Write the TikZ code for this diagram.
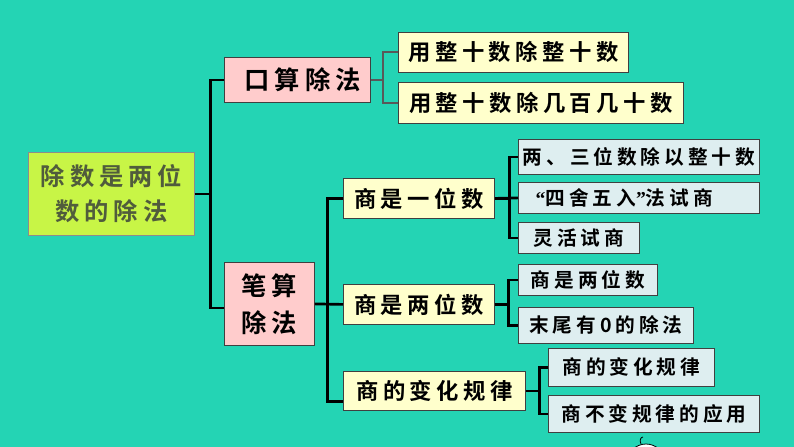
\documentclass[tikz,border=0pt]{standalone}
\usepackage{fontspec}
\usepackage{tikz}
\usetikzlibrary{positioning,calc}
\newfontfamily\cjk[LetterSpace=20,BoldFont=* Bold]{Noto Sans CJK SC}
\newfontfamily\quotefont{Liberation Serif}
\newcommand{\openq}{{\quotefont “}}
\newcommand{\closeq}{{\quotefont ”}}
\definecolor{bgteal}{RGB}{36,212,180}
\definecolor{rootgreen}{RGB}{200,245,70}
\definecolor{roottext}{RGB}{80,92,60}
\definecolor{pinkbox}{RGB}{255,204,204}
\definecolor{yellowbox}{RGB}{255,255,204}
\definecolor{bluebox}{RGB}{222,238,240}

\begin{document}
\begin{tikzpicture}[x=0.75pt,y=-0.75pt,
 box/.style={draw=black!75,line width=0.6pt,inner sep=0pt,anchor=north west,align=center},
 sz/.style 2 args={minimum width=#1*0.75pt,minimum height=#2*0.75pt},
 rootbox/.style={box,draw=black!45,fill=rootgreen,text=roottext,font=\cjk\bfseries\fontsize{18.25pt}{26pt}\selectfont},
 topbox/.style={box,fill=pinkbox,font=\cjk\bfseries\fontsize{19pt}{27.75pt}\selectfont},
 midbox/.style={box,fill=yellowbox,font=\cjk\bfseries\fontsize{16.75pt}{20pt}\selectfont},
 leafbox/.style={box,fill=bluebox,font=\cjk\bfseries\fontsize{14.75pt}{18pt}\selectfont},
 link/.style={draw=black,line width=2pt},
 greylink/.style={draw=black!65,line width=1.5pt}]
\fill[bgteal] (0,0) rectangle (794,447);
\useasboundingbox (0,0) rectangle (794,447);
\begin{scope}
\clip (0,0) rectangle (794,447);
% little figure at the bottom edge
\draw[fill=white,line width=0.6pt] (646,463) ellipse (19 and 19);
\draw[line width=0.6pt] (641,444) .. controls (639,440) and (641,437) .. (643,437);
\end{scope}
% root
\node[rootbox,sz={166}{83}] (root) at (28,152) {除数是两位\\数的除法};
% first level
\node[topbox,sz={146}{45}] (kou) at (224,57) {\ 口算除法};
\node[topbox,sz={90}{83}] (bi) at (224,262) {笔算\\除法};
% oral division
\node[midbox,sz={230}{40}] (kou1) at (398,32) {用整十数除整十数};
\node[midbox,sz={285}{41}] (kou2) at (398,82) {用整十数除几百几十数};
% written division
\node[midbox,sz={151}{40}] (yi) at (343,178) {商是一位数};
\node[midbox,sz={151}{40}] (liang) at (343,284) {商是两位数};
\node[midbox,sz={182}{39}] (gui) at (343,371) {商的变化规律};
% leaves
\node[leafbox,sz={241}{35}] (yi1) at (518,139) {两、三位数除以整十数};
\node[leafbox,sz={241}{31}] (yi2) at (518,182) {\openq 四舍五入\closeq 法试商\hspace{22pt}};
\node[leafbox,sz={121}{31}] (yi3) at (518,222) {灵活试商};
\node[leafbox,sz={139}{31}] (liang1) at (518,264) {商是两位数};
\node[leafbox,sz={175}{36}] (liang2) at (518,307) {末尾有0的除法};
\node[leafbox,sz={166}{38}] (gui1) at (548,348) {商的变化规律};
\node[leafbox,sz={211}{37}] (gui2) at (548,395) {商不变规律的应用};
% connectors
\draw[link] (root.east) -- ++(16,0) |- (kou.west);
\draw[link] (root.east) -- ++(16,0) |- ([yshift=-3pt]bi.west);
\draw[greylink] (kou.east) -- ++(12,0) |- (kou1.west);
\draw[greylink] (kou.east) -- ++(12,0) |- (kou2.west);
\draw[link] (bi.east) -- ++(13,0) |- (yi.west);
\draw[link] (bi.east) -- (liang.west);
\draw[link] (bi.east) -- ++(13,0) |- ([yshift=-8pt]gui.west);
\draw[link] (yi.east) -- ++(15,0) |- (yi1.west);
\draw[link] (yi.east) -- (yi2.west);
\draw[link] (yi.east) -- ++(15,0) |- (yi3.west);
\draw[link] (liang.east) -- ++(14,0) |- (liang1.west);
\draw[link] (liang.east) -- ++(14,0) |- (liang2.west);
\draw[link] (gui.east) -- ++(14,0) |- (gui1.west);
\draw[link] (gui.east) -- ++(14,0) |- (gui2.west);
\end{tikzpicture}
\end{document}
